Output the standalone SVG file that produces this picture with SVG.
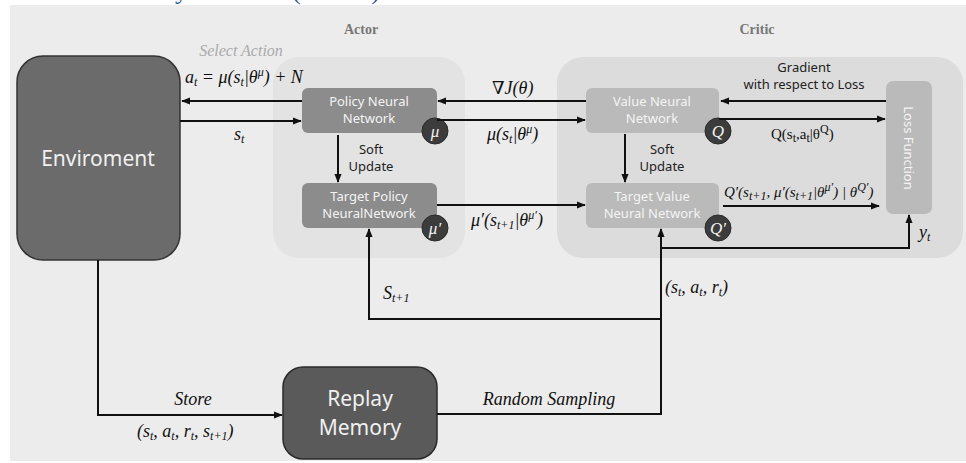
<svg xmlns="http://www.w3.org/2000/svg" width="966" height="463" viewBox="0 0 966 463">
<defs>
<marker id="ah" viewBox="0 0 10 10" refX="9" refY="5" markerWidth="9" markerHeight="9" markerUnits="userSpaceOnUse" orient="auto">
<path d="M0,1 L10,5 L0,9 Z" fill="#111"/>
</marker>
<style>
.ln{fill:none;stroke:#111;stroke-width:2;}
.arr{marker-end:url(#ah);}
.m{font-family:"Liberation Serif","DejaVu Serif",serif;font-style:italic;font-size:18px;fill:#111;}
.mu{font-family:"Liberation Serif","DejaVu Serif",serif;font-size:15px;fill:#111;}
.s{font-size:12px;}
.lbl{font-family:"Noto Sans","Open Sans",sans-serif;font-size:13px;fill:#222;text-anchor:middle;}
.nw{font-family:"Noto Sans","Open Sans",sans-serif;font-size:13px;fill:#f4f4f4;text-anchor:middle;}
.big{font-family:"Noto Sans","Open Sans",sans-serif;font-size:21px;fill:#f0f0f0;text-anchor:middle;}
.hd{font-family:"Liberation Serif","DejaVu Serif",serif;font-weight:bold;font-size:14px;fill:#777;text-anchor:middle;}
.circ{fill:#3c3c3c;stroke:#2a2a2a;stroke-width:1;}
.ct{font-family:"Liberation Serif","DejaVu Serif",serif;font-style:italic;font-size:17px;fill:#f2f2f2;text-anchor:middle;}
</style>
</defs>
<rect x="0" y="0" width="966" height="463" fill="#ffffff"/>
<text x="380" y="-1" font-family="Liberation Serif, serif" font-size="26" fill="#2e5597" text-anchor="end">Policy Gradient (DDPG)</text>
<rect x="10" y="5" width="956" height="456" fill="#ececec"/>

<g id="actor-panel">
<rect x="273" y="57" width="192" height="201" rx="26" fill="#e3e3e3"/>
<text class="hd" x="361" y="34">Actor</text>
</g>
<g id="critic-panel">
<rect x="557" y="57" width="406" height="201" rx="26" fill="#dcdcdc"/>
<text class="hd" x="757" y="34">Critic</text>
</g>

<g id="environment">
<rect x="17" y="56" width="163" height="204" rx="26" fill="#6b6b6b" stroke="#333" stroke-width="1.5"/>
<text class="big" x="98" y="166" font-size="22">Enviroment</text>
</g>

<g id="policy-net">
<rect x="302" y="88" width="135" height="45" rx="6" fill="#8c8c8c"/>
<text class="nw" x="369" y="106">Policy Neural</text>
<text class="nw" x="369" y="123">Network</text>
<circle class="circ" cx="435" cy="131" r="13"/>
<text class="ct" x="435" y="137">μ</text>
</g>

<g id="target-policy-net">
<rect x="302" y="183" width="135" height="45" rx="6" fill="#8c8c8c"/>
<text class="nw" x="369" y="201">Target Policy</text>
<text class="nw" x="369" y="218">NeuralNetwork</text>
<circle class="circ" cx="435" cy="228" r="13"/>
<text class="ct" x="435" y="234">μ′</text>
</g>

<g id="value-net">
<rect x="586" y="88" width="133" height="45" rx="6" fill="#bababa"/>
<text class="nw" x="652" y="106">Value Neural</text>
<text class="nw" x="652" y="123">Network</text>
<circle class="circ" cx="718" cy="131" r="13"/>
<text class="ct" x="718" y="137">Q</text>
</g>

<g id="target-value-net">
<rect x="586" y="183" width="133" height="45" rx="6" fill="#bababa"/>
<text class="nw" x="652" y="201">Target Value</text>
<text class="nw" x="652" y="218">Neural Network</text>
<circle class="circ" cx="718" cy="228" r="13"/>
<text class="ct" x="718" y="234">Q′</text>
</g>

<g id="loss-function">
<rect x="886" y="81" width="46" height="133" rx="7" fill="#bababa"/>
<text class="nw" x="0" y="0" transform="translate(904,148) rotate(90)" font-size="14">Loss Function</text>
</g>

<g id="replay-memory">
<rect x="283" y="367" width="154" height="92" rx="20" fill="#5a5a5a" stroke="#2a2a2a" stroke-width="1.5"/>
<text class="big" x="360" y="406">Replay</text>
<text class="big" x="360" y="435">Memory</text>
</g>

<g id="connectors">
<line class="ln arr" x1="302" y1="101" x2="182" y2="101"/>
<line class="ln arr" x1="180" y1="121" x2="301" y2="121"/>
<line class="ln arr" x1="338" y1="135" x2="338" y2="182"/>
<line class="ln arr" x1="586" y1="101" x2="438" y2="101"/>
<line class="ln arr" x1="437" y1="120" x2="585" y2="120"/>
<line class="ln arr" x1="437" y1="205" x2="585" y2="205"/>
<line class="ln arr" x1="625" y1="134" x2="625" y2="182"/>
<line class="ln arr" x1="886" y1="101" x2="721" y2="101"/>
<line class="ln arr" x1="719" y1="119" x2="885" y2="119"/>
<line class="ln arr" x1="723" y1="206" x2="879" y2="206"/>
<polyline class="ln arr" points="661,248 909,248 909,215"/>
<polyline class="ln arr" points="437,414 661,414 661,229"/>
<polyline class="ln arr" points="661,319 369,319 369,229"/>
<polyline class="ln arr" points="98,260 98,415 282,415"/>
</g>

<g id="labels">
<text x="241" y="56" font-family="Liberation Serif, serif" font-style="italic" font-size="16" fill="#aaa" text-anchor="middle">Select Action</text>
<text class="m" x="185" y="83">a<tspan class="s" dy="3">t</tspan><tspan dy="-3"> = μ(s</tspan><tspan class="s" dy="3">t</tspan><tspan dy="-3">|θ</tspan><tspan class="s" dy="-7">μ</tspan><tspan dy="7">) + N</tspan></text>
<text class="m" x="234" y="140">s<tspan class="s" dy="3">t</tspan></text>
<text class="lbl" x="371" y="154">Soft</text>
<text class="lbl" x="371" y="171">Update</text>
<text class="lbl" x="662" y="154">Soft</text>
<text class="lbl" x="662" y="171">Update</text>
<text class="m" x="492" y="94">∇J(θ)</text>
<text class="m" x="487" y="140">μ(s<tspan class="s" dy="3">t</tspan><tspan dy="-3">|θ</tspan><tspan class="s" dy="-7">μ</tspan><tspan dy="7">)</tspan></text>
<text class="m" x="471" y="226">μ′(s<tspan class="s" dy="3">t+1</tspan><tspan dy="-3">|θ</tspan><tspan class="s" dy="-7">μ′</tspan><tspan dy="7">)</tspan></text>
<text class="lbl" x="804" y="72">Gradient</text>
<text class="lbl" x="804" y="89">with respect to Loss</text>
<text class="mu" x="771" y="139">Q(s<tspan class="s" dy="3">t</tspan><tspan dy="-3">,a</tspan><tspan class="s" dy="3">t</tspan><tspan dy="-3">|θ</tspan><tspan class="s" dy="-6">Q</tspan><tspan dy="6">)</tspan></text>
<text class="mu" x="724" y="197" font-style="italic">Q′(s<tspan class="s" dy="3">t+1</tspan><tspan dy="-3">, μ′(s</tspan><tspan class="s" dy="3">t+1</tspan><tspan dy="-3">|θ</tspan><tspan class="s" dy="-6">μ′</tspan><tspan dy="6">) | θ</tspan><tspan class="s" dy="-6">Q′</tspan><tspan dy="6">)</tspan></text>
<text class="m" x="919" y="238" font-size="16">y<tspan class="s" dy="3">t</tspan></text>
<text class="m" x="665" y="293">(s<tspan class="s" dy="3">t</tspan><tspan dy="-3">, a</tspan><tspan class="s" dy="3">t</tspan><tspan dy="-3">, r</tspan><tspan class="s" dy="3">t</tspan><tspan dy="-3">)</tspan></text>
<text class="m" x="383" y="299">S<tspan class="s" dy="3">t+1</tspan></text>
<text class="m" x="193" y="405" text-anchor="middle">Store</text>
<text class="m" x="137" y="437">(s<tspan class="s" dy="3">t</tspan><tspan dy="-3">, a</tspan><tspan class="s" dy="3">t</tspan><tspan dy="-3">, r</tspan><tspan class="s" dy="3">t</tspan><tspan dy="-3">, s</tspan><tspan class="s" dy="3">t+1</tspan><tspan dy="-3">)</tspan></text>
<text class="m" x="549" y="405" text-anchor="middle">Random Sampling</text>
</g>
</svg>
